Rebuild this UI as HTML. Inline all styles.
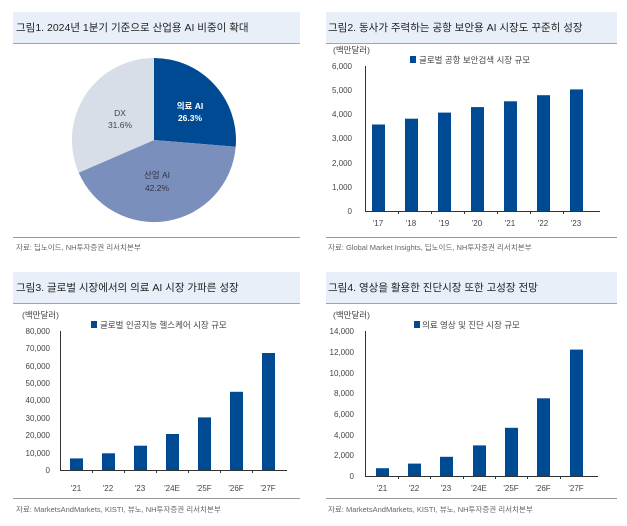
<!DOCTYPE html>
<html><head><meta charset="utf-8"><style>
html,body{margin:0;padding:0;background:#fff;width:627px;height:526px;overflow:hidden}
svg{display:block;font-family:"Liberation Sans","Noto Sans CJK KR",sans-serif}
.t{font-size:10.5px;fill:#222}
.s{font-size:7.5px;fill:#666}
.k{font-size:8px;fill:#444}
.l{font-size:8.5px;fill:#444}
</style></head><body>
<svg width="627" height="526" viewBox="0 0 627 526">
<rect width="627" height="526" fill="#fff"/>
<rect x="13" y="12" width="287" height="31" fill="#e9eff8"/>
<line x1="13" y1="43.5" x2="300" y2="43.5" stroke="#9aa6b8"/>
<text class="t" x="16" y="31">그림1. 2024년 1분기 기준으로 산업용 AI 비중이 확대</text>
<rect x="326" y="12" width="291" height="31" fill="#e9eff8"/>
<line x1="326" y1="43.5" x2="617" y2="43.5" stroke="#9aa6b8"/>
<text class="t" x="328" y="31">그림2. 동사가 주력하는 공항 보안용 AI 시장도 꾸준히 성장</text>
<rect x="13" y="272" width="287" height="31" fill="#e9eff8"/>
<line x1="13" y1="303.5" x2="300" y2="303.5" stroke="#9aa6b8"/>
<text class="t" x="16" y="291">그림3. 글로벌 시장에서의 의료 AI 시장 가파른 성장</text>
<rect x="326" y="272" width="291" height="31" fill="#e9eff8"/>
<line x1="326" y1="303.5" x2="617" y2="303.5" stroke="#9aa6b8"/>
<text class="t" x="328" y="291">그림4. 영상을 활용한 진단시장 또한 고성장 전망</text>
<line x1="13" y1="237.5" x2="300" y2="237.5" stroke="#999"/>
<text class="s" x="16" y="250">자료: 딥노이드, NH투자증권 리서치본부</text>
<line x1="326" y1="237.5" x2="617" y2="237.5" stroke="#999"/>
<text class="s" x="328" y="250">자료: Global Market Insights, 딥노이드, NH투자증권 리서치본부</text>
<line x1="13" y1="498.5" x2="300" y2="498.5" stroke="#999"/>
<text class="s" x="16" y="512">자료: MarketsAndMarkets, KISTI, 뷰노, NH투자증권 리서치본부</text>
<line x1="326" y1="498.5" x2="617" y2="498.5" stroke="#999"/>
<text class="s" x="328" y="512">자료: MarketsAndMarkets, KISTI, 뷰노, NH투자증권 리서치본부</text>
<!-- pie -->
<path d="M154,140 L154,58 A82,82 0 0 1 235.7,146.7 Z" fill="#004a93"/>
<path d="M154,140 L235.7,146.7 A82,82 0 0 1 78.7,172.6 Z" fill="#7b8fbd"/>
<path d="M154,140 L78.7,172.6 A82,82 0 0 1 154,58 Z" fill="#d7dee7"/>
<g font-size="8.5" text-anchor="middle">
<text x="190" y="109" fill="#fff" font-weight="bold">의료 AI</text>
<text x="190" y="121" fill="#fff" font-weight="bold">26.3%</text>
<text x="157" y="178" fill="#334">산업 AI</text>
<text x="157" y="191" fill="#334">42.2%</text>
<text x="120" y="116" fill="#444">DX</text>
<text x="120" y="128" fill="#444">31.6%</text>
</g>
<!-- chart 2 -->
<text class="l" x="333" y="53">(백만달러)</text>
<rect x="410" y="56" width="6" height="7" fill="#004a93"/>
<text class="l" x="419" y="63">글로벌 공항 보안검색 시장 규모</text>
<g class="k" text-anchor="end">
<text x="352" y="69">6,000</text><text x="352" y="93">5,000</text><text x="352" y="117">4,000</text><text x="352" y="141">3,000</text><text x="352" y="166">2,000</text><text x="352" y="190">1,000</text><text x="352" y="214">0</text>
</g>
<line x1="365.5" y1="66" x2="365.5" y2="211" stroke="#333"/>
<line x1="365" y1="211.5" x2="600" y2="211.5" stroke="#333"/>
<g stroke="#333">
<line x1="398.5" y1="211" x2="398.5" y2="214"/><line x1="431.5" y1="211" x2="431.5" y2="214"/><line x1="464.5" y1="211" x2="464.5" y2="214"/><line x1="497.5" y1="211" x2="497.5" y2="214"/><line x1="530.5" y1="211" x2="530.5" y2="214"/><line x1="563.5" y1="211" x2="563.5" y2="214"/>
</g>
<g fill="#004a93">
<rect x="372" y="124.5" width="13" height="86.5"/>
<rect x="405" y="118.7" width="13" height="92.3"/>
<rect x="438" y="112.6" width="13" height="98.4"/>
<rect x="471" y="107.1" width="13" height="103.9"/>
<rect x="504" y="101.3" width="13" height="109.7"/>
<rect x="537" y="95.2" width="13" height="115.8"/>
<rect x="570" y="89.4" width="13" height="121.6"/>
</g>
<g class="k" text-anchor="middle">
<text x="378" y="226">'17</text><text x="411" y="226">'18</text><text x="444" y="226">'19</text><text x="477" y="226">'20</text><text x="510" y="226">'21</text><text x="543" y="226">'22</text><text x="576" y="226">'23</text>
</g>
<!-- chart 3 -->
<text class="l" x="22" y="318">(백만달러)</text>
<rect x="91" y="321" width="6" height="7" fill="#004a93"/>
<text class="l" x="100" y="328">글로벌 인공지능 헬스케어 시장 규모</text>
<g class="k" text-anchor="end">
<text x="50" y="334">80,000</text><text x="50" y="351">70,000</text><text x="50" y="369">60,000</text><text x="50" y="386">50,000</text><text x="50" y="403">40,000</text><text x="50" y="421">30,000</text><text x="50" y="438">20,000</text><text x="50" y="456">10,000</text><text x="50" y="473">0</text>
</g>
<line x1="60.5" y1="331" x2="60.5" y2="470" stroke="#333"/>
<line x1="60" y1="470.5" x2="287" y2="470.5" stroke="#333"/>
<g stroke="#333">
<line x1="92.5" y1="470" x2="92.5" y2="473"/><line x1="124.5" y1="470" x2="124.5" y2="473"/><line x1="156.5" y1="470" x2="156.5" y2="473"/><line x1="188.5" y1="470" x2="188.5" y2="473"/><line x1="220.5" y1="470" x2="220.5" y2="473"/><line x1="252.5" y1="470" x2="252.5" y2="473"/>
</g>
<g fill="#004a93">
<rect x="70" y="458.4" width="13" height="11.6"/>
<rect x="102" y="453.3" width="13" height="16.7"/>
<rect x="134" y="445.7" width="13" height="24.3"/>
<rect x="166" y="434" width="13" height="36"/>
<rect x="198" y="417.4" width="13" height="52.6"/>
<rect x="230" y="391.8" width="13" height="78.2"/>
<rect x="262" y="353" width="13" height="117"/>
</g>
<g class="k" text-anchor="middle">
<text x="76" y="491">'21</text><text x="108" y="491">'22</text><text x="140" y="491">'23</text><text x="172" y="491">'24E</text><text x="204" y="491">'25F</text><text x="236" y="491">'26F</text><text x="268" y="491">'27F</text>
</g>
<!-- chart 4 -->
<text class="l" x="333" y="318">(백만달러)</text>
<rect x="414" y="321" width="6" height="7" fill="#004a93"/>
<text class="l" x="422" y="328">의료 영상 및 진단 시장 규모</text>
<g class="k" text-anchor="end">
<text x="354" y="334">14,000</text><text x="354" y="355">12,000</text><text x="354" y="376">10,000</text><text x="354" y="396">8,000</text><text x="354" y="417">6,000</text><text x="354" y="438">4,000</text><text x="354" y="458">2,000</text><text x="354" y="479">0</text>
</g>
<line x1="365.5" y1="331" x2="365.5" y2="476" stroke="#333"/>
<line x1="365" y1="476.5" x2="598" y2="476.5" stroke="#333"/>
<g stroke="#333">
<line x1="398.5" y1="476" x2="398.5" y2="479"/><line x1="430.5" y1="476" x2="430.5" y2="479"/><line x1="463.5" y1="476" x2="463.5" y2="479"/><line x1="495.5" y1="476" x2="495.5" y2="479"/><line x1="527.5" y1="476" x2="527.5" y2="479"/><line x1="560.5" y1="476" x2="560.5" y2="479"/>
</g>
<g fill="#004a93">
<rect x="376" y="468.2" width="13" height="7.8"/>
<rect x="408" y="463.6" width="13" height="12.4"/>
<rect x="440" y="456.8" width="13" height="19.2"/>
<rect x="473" y="445.4" width="13" height="30.6"/>
<rect x="505" y="427.8" width="13" height="48.2"/>
<rect x="537" y="398.3" width="13" height="77.7"/>
<rect x="570" y="349.6" width="13" height="126.4"/>
</g>
<g class="k" text-anchor="middle">
<text x="382" y="491">'21</text><text x="414" y="491">'22</text><text x="446" y="491">'23</text><text x="479" y="491">'24E</text><text x="511" y="491">'25F</text><text x="543" y="491">'26F</text><text x="576" y="491">'27F</text>
</g>
</svg>
</body></html>
